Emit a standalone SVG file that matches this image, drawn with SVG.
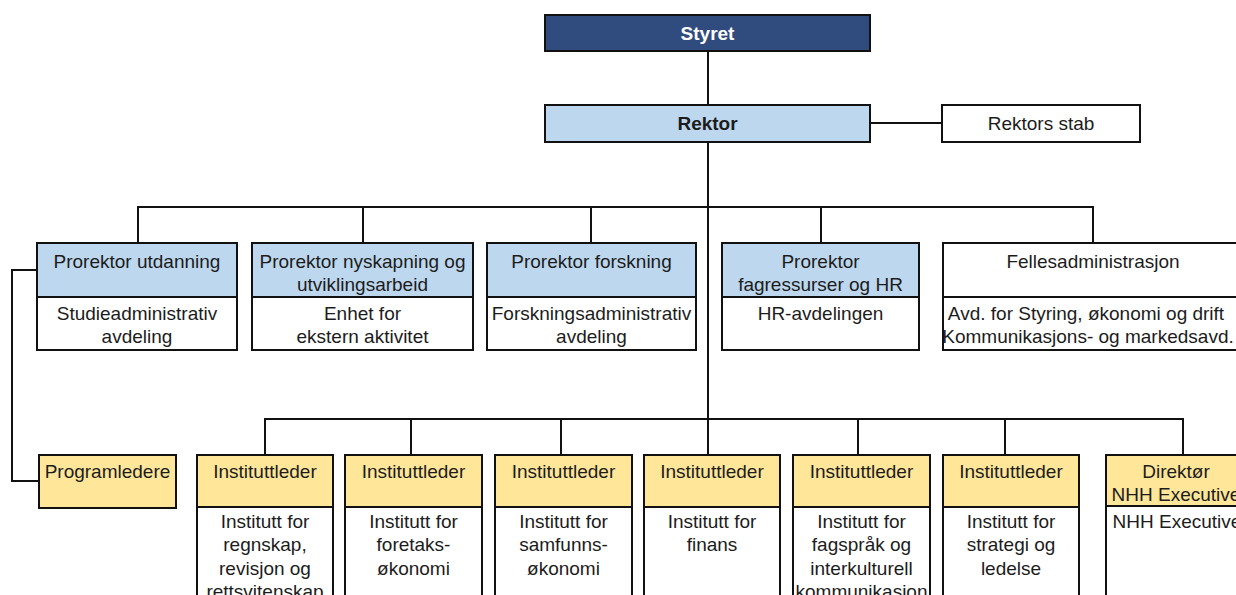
<svg xmlns="http://www.w3.org/2000/svg" width="1236" height="595" viewBox="0 0 1236 595">
<style>
text{font-family:"Liberation Sans",Arial,sans-serif;font-size:19px;fill:#1c1c1c;text-anchor:middle}
.b{font-weight:bold}
.w{fill:#fff}
.box{stroke:#111;stroke-width:2}
.navy{fill:#304C7E}
.blue{fill:#BDD7EE}
.yel{fill:#FFE699}
.wh{fill:#fff}
.con{stroke:#111;stroke-width:2;fill:none}
</style>
<rect width="1236" height="595" fill="#fff"/>
<g id="connectors">
<line class="con" x1="708" y1="51" x2="708" y2="105"/>
<line class="con" x1="870" y1="123" x2="942" y2="123"/>
<line class="con" x1="708" y1="142" x2="708" y2="455"/>
<polyline class="con" points="138,243 138,207 1093,207 1093,243"/>
<line class="con" x1="363" y1="207" x2="363" y2="243"/>
<line class="con" x1="591" y1="207" x2="591" y2="243"/>
<line class="con" x1="821" y1="207" x2="821" y2="243"/>
<polyline class="con" points="37,270 12,270 12,481 39,481"/>
<polyline class="con" points="265,455 265,419 1183,419 1183,455"/>
<line class="con" x1="411" y1="419" x2="411" y2="455"/>
<line class="con" x1="561" y1="419" x2="561" y2="455"/>
<line class="con" x1="858" y1="419" x2="858" y2="455"/>
<line class="con" x1="1005" y1="419" x2="1005" y2="455"/>
</g>
<g id="styret">
<rect class="box navy" x="545" y="15" width="325" height="36"/>
<text class="b w" x="707.5" y="40">Styret</text>
</g>
<g id="rektor">
<rect class="box blue" x="545" y="105" width="325" height="37"/>
<text class="b" x="707.5" y="130">Rektor</text>
</g>
<g id="rektors-stab">
<rect class="box wh" x="942" y="105" width="198" height="37"/>
<text x="1041" y="130">Rektors stab</text>
</g>
<g id="prorektor-utdanning">
<rect class="box blue" x="37" y="243" width="200" height="54"/>
<rect class="box wh" x="37" y="297" width="200" height="53"/>
<text x="137" y="268">Prorektor utdanning</text>
<text x="137" y="320">Studieadministrativ</text>
<text x="137" y="343">avdeling</text>
</g>
<g id="prorektor-nyskapning">
<rect class="box blue" x="252" y="243" width="221" height="54"/>
<rect class="box wh" x="252" y="297" width="221" height="53"/>
<text x="362.5" y="268">Prorektor nyskapning og</text>
<text x="362.5" y="291">utviklingsarbeid</text>
<text x="362.5" y="320">Enhet for</text>
<text x="362.5" y="343">ekstern aktivitet</text>
</g>
<g id="prorektor-forskning">
<rect class="box blue" x="487" y="243" width="209" height="54"/>
<rect class="box wh" x="487" y="297" width="209" height="53"/>
<text x="591.5" y="268">Prorektor forskning</text>
<text x="591.5" y="320">Forskningsadministrativ</text>
<text x="591.5" y="343">avdeling</text>
</g>
<g id="prorektor-fagressurser">
<rect class="box blue" x="722" y="243" width="197" height="54"/>
<rect class="box wh" x="722" y="297" width="197" height="53"/>
<text x="820.5" y="268">Prorektor</text>
<text x="820.5" y="291">fagressurser og HR</text>
<text x="820.5" y="320">HR-avdelingen</text>
</g>
<g id="fellesadministrasjon">
<rect class="box wh" x="943" y="243" width="310" height="54"/>
<rect class="box wh" x="943" y="297" width="310" height="53"/>
<text x="1093" y="268">Fellesadministrasjon</text>
<text x="1086" y="320">Avd. for Styring, økonomi og drift</text>
<text x="1088" y="343">Kommunikasjons- og markedsavd.</text>
</g>
<g id="programledere">
<rect class="box yel" x="39" y="455" width="137" height="53"/>
<text x="107.5" y="478">Programledere</text>
</g>
<g id="inst-regnskap">
<rect class="box yel" x="197" y="455" width="136" height="52"/>
<rect class="box wh" x="197" y="507" width="136" height="100"/>
<text x="265" y="478">Instituttleder</text>
<text x="265" y="528">Institutt for</text>
<text x="265" y="551">regnskap,</text>
<text x="265" y="575">revisjon og</text>
<text x="265" y="598">rettsvitenskap</text>
</g>
<g id="inst-foretaksokonomi">
<rect class="box yel" x="345" y="455" width="137" height="52"/>
<rect class="box wh" x="345" y="507" width="137" height="100"/>
<text x="413.5" y="478">Instituttleder</text>
<text x="413.5" y="528">Institutt for</text>
<text x="413.5" y="551">foretaks-</text>
<text x="413.5" y="575">økonomi</text>
</g>
<g id="inst-samfunnsokonomi">
<rect class="box yel" x="495" y="455" width="137" height="52"/>
<rect class="box wh" x="495" y="507" width="137" height="100"/>
<text x="563.5" y="478">Instituttleder</text>
<text x="563.5" y="528">Institutt for</text>
<text x="563.5" y="551">samfunns-</text>
<text x="563.5" y="575">økonomi</text>
</g>
<g id="inst-finans">
<rect class="box yel" x="644" y="455" width="136" height="52"/>
<rect class="box wh" x="644" y="507" width="136" height="100"/>
<text x="712" y="478">Instituttleder</text>
<text x="712" y="528">Institutt for</text>
<text x="712" y="551">finans</text>
</g>
<g id="inst-fagsprak">
<rect class="box yel" x="793" y="455" width="137" height="52"/>
<rect class="box wh" x="793" y="507" width="137" height="100"/>
<text x="861.5" y="478">Instituttleder</text>
<text x="861.5" y="528">Institutt for</text>
<text x="861.5" y="551">fagspråk og</text>
<text x="861.5" y="575">interkulturell</text>
<text x="861.5" y="598">kommunikasjon</text>
</g>
<g id="inst-strategi">
<rect class="box yel" x="943" y="455" width="136" height="52"/>
<rect class="box wh" x="943" y="507" width="136" height="100"/>
<text x="1011" y="478">Instituttleder</text>
<text x="1011" y="528">Institutt for</text>
<text x="1011" y="551">strategi og</text>
<text x="1011" y="575">ledelse</text>
</g>
<g id="nhh-executive">
<rect class="box yel" x="1106" y="455" width="150" height="51"/>
<rect class="box wh" x="1106" y="506" width="150" height="100"/>
<text x="1176" y="478">Direktør</text>
<text x="1176" y="501">NHH Executive</text>
<text x="1177" y="528">NHH Executive</text>
</g>
</svg>
